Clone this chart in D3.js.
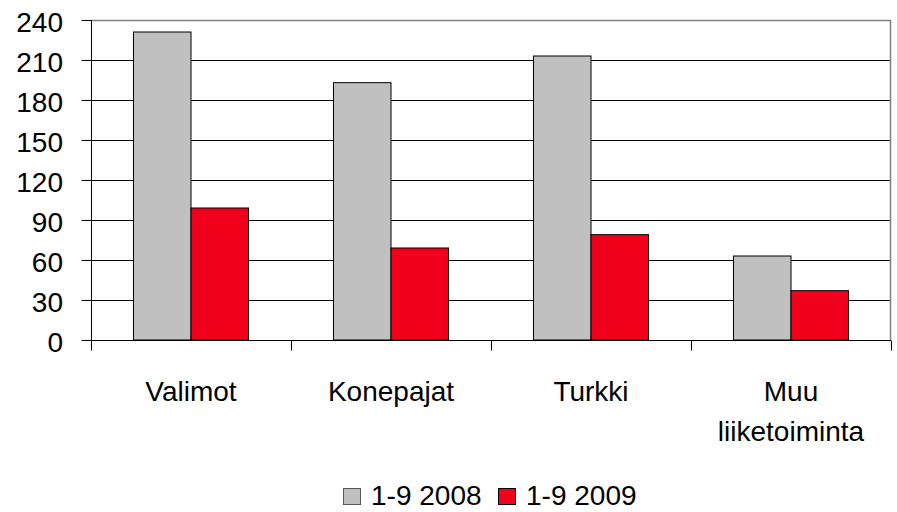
<!DOCTYPE html>
<html>
<head>
<meta charset="utf-8">
<script src="https://cdn.jsdelivr.net/npm/d3@7"></script>
<style>
  html, body { margin: 0; padding: 0; background: #fff; }
  svg { display: block; font-family: "Liberation Sans", Arial, sans-serif; }
</style>
</head>
<body>
<div id="chart"></div>
<script>
// data
const categories = [["Valimot"], ["Konepajat"], ["Turkki"], ["Muu", "liiketoiminta"]];
const seriesNames = ["1-9 2008", "1-9 2009"];
const values2008 = [231, 193, 213, 63];
const values2009 = [99, 69, 79, 37];
const yTicks = [0, 30, 60, 90, 120, 150, 180, 210, 240];

const COLORS = ["#c0c0c0", "#f0001a"];
const FONT = 28;

const W = 897, H = 512;
const margins = { L: 91, R: 6, T: 20, B: 172 };
const width = W - margins.L - margins.R;
const height = H - margins.T - margins.B;

const svg = d3.select("#chart").append("svg")
  .attr("width", W)
  .attr("height", H);

const g = svg.append("g")
  .attr("transform", "translate(" + margins.L + "," + margins.T + ")");

const catKeys = categories.map(c => c.join(" "));
const x0 = d3.scaleBand().domain(catKeys).range([0, width]).padding(0);
const x1 = d3.scaleBand().domain(seriesNames).range([0, x0.bandwidth()])
  .paddingInner(0).paddingOuter(0.739);
const y = d3.scaleLinear().domain([0, 240]).range([height, 0]);

function addText(sel, tx, ty, anchor) {
  return sel.append("text")
    .attr("x", tx).attr("y", ty)
    .attr("text-anchor", anchor)
    .attr("font-size", FONT)
    .attr("fill", "#000");
}

// gridlines
g.append("g").selectAll("line")
  .data(yTicks.filter(t => t > 0 && t < 240))
  .enter().append("line")
    .attr("x1", 0).attr("x2", width)
    .attr("y1", d => Math.round(y(d)) + 0.5).attr("y2", d => Math.round(y(d)) + 0.5)
    .attr("stroke", "#000").attr("stroke-width", 1);

// top and right border (grey)
g.append("path")
  .attr("d", "M0," + (y(240) + 0.5) + "H" + (width - 0.5) + "V" + height)
  .attr("fill", "none").attr("stroke", "#808080").attr("stroke-width", 1.5);

// bars
const rows = catKeys.map((k, i) => ({ key: k, vals: [values2008[i], values2009[i]] }));
const groups = g.append("g").selectAll("g")
  .data(rows)
  .enter().append("g")
    .attr("transform", d => "translate(" + x0(d.key) + ",0)");

groups.selectAll("rect")
  .data(d => d.vals.map((v, j) => ({ s: seriesNames[j], v: v, j: j })))
  .enter().append("rect")
    .attr("x", d => x1(d.s))
    .attr("y", d => y(d.v))
    .attr("width", x1.bandwidth())
    .attr("height", d => height - y(d.v))
    .attr("fill", d => COLORS[d.j])
    .attr("stroke", "#000").attr("stroke-width", 1);

// y axis
const yAxis = d3.axisLeft(y).tickValues(yTicks).tickSize(10).tickSizeOuter(0).tickFormat("");
const yg = g.append("g").attr("transform", "translate(0.5,0)").call(yAxis);
yg.select(".domain").attr("d", "M0,0V" + (height + 10));
yg.selectAll("line").attr("stroke", "#000");

yTicks.forEach(t => {
  addText(g, -28, y(t) + 11.5, "end").text(t);
});

// x axis
const xg = g.append("g").attr("transform", "translate(0," + (height + 0.5) + ")");
xg.append("line").attr("x1", 0).attr("x2", width).attr("stroke", "#000");
xg.selectAll(".tk")
  .data(d3.range(catKeys.length + 1))
  .enter().append("line")
    .attr("class", "tk")
    .attr("x1", d => Math.round(d * x0.step()) + 0.5)
    .attr("x2", d => Math.round(d * x0.step()) + 0.5)
    .attr("y1", 0).attr("y2", 10)
    .attr("stroke", "#000");

categories.forEach((lines, i) => {
  const cx = x0(catKeys[i]) + x0.bandwidth() / 2;
  lines.forEach((ln, k) => {
    addText(g, cx, 381 + k * 40, "middle").text(ln);
  });
});

// legend
const legend = svg.append("g");
const legendX = [343, 498];
seriesNames.forEach((name, i) => {
  legend.append("rect")
    .attr("x", legendX[i] + 0.5).attr("y", 488.5)
    .attr("width", 17).attr("height", 16)
    .attr("fill", COLORS[i])
    .attr("stroke", i === 0 ? "#555" : "#000").attr("stroke-width", 1);
  addText(legend, legendX[i] + 28, 505, "start").text(name);
});
</script>
</body>
</html>
